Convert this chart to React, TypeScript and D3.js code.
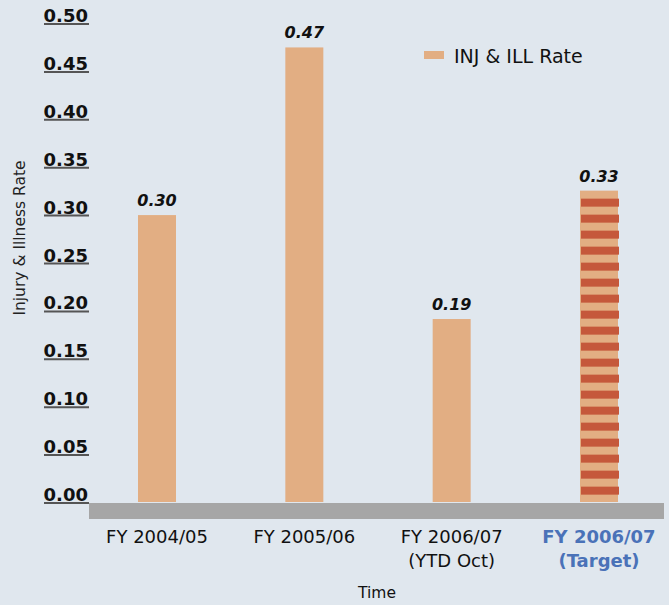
import React from 'react'
import * as d3 from 'd3'

// periods on the x axis, two lines each
const periods = ['FY 2004/05', 'FY 2005/06', 'FY 2006/07 (YTD Oct)', 'FY 2006/07 (Target)']
const periodLines = [['FY 2004/05'], ['FY 2005/06'], ['FY 2006/07', '(YTD Oct)'], ['FY 2006/07', '(Target)']]
const rates = [0.2995, 0.4745, 0.191, 0.325]
const isTarget = [false, false, false, true]
const yTicks = [0, 0.05, 0.1, 0.15, 0.2, 0.25, 0.3, 0.35, 0.4, 0.45, 0.5]

const W = 669
const H = 605
const BG = '#e0e7ee'
const BAR = '#e2ae83'
const STRIPE = '#c5583b'
const BLUE = '#4a72b8'
const FONT = '"DejaVu Sans", sans-serif'

const App: React.FC = () => {
  const y = d3.scaleLinear().domain([0, 0.5]).range([502, 23])
  const x = d3.scalePoint<string>().domain(periods).range([157, 599])
  const barW = 38
  const fmt = d3.format('.2f')

  return (
    <svg
      width={W}
      height={H}
      style={{ position: 'absolute', left: 0, top: 0, display: 'block' }}
      fontFamily={FONT}
    >
      <rect width={W} height={H} fill={BG} />

      {/* y axis ticks, underlined labels */}
      {yTicks.map(t => (
        <g key={t} transform={`translate(0,${y(t)})`}>
          <line x1={44} x2={89} y1={1} y2={1} stroke="#555" strokeWidth={2} />
          <text x={88} y={-1} textAnchor="end" fontSize={18} fontWeight="bold" fill="#111">
            {fmt(t)}
          </text>
        </g>
      ))}

      <text
        transform={`translate(25,${238}) rotate(-90)`}
        textAnchor="middle"
        fontSize={15.5}
        fill="#222"
      >
        Injury &amp; Illness Rate
      </text>

      {/* bars */}
      {periods.map((p, i) => {
        const cx = x(p)!
        const top = y(rates[i])
        const bottom = y(0)
        const x0 = cx - barW / 2
        return (
          <g key={p}>
            <rect x={x0} y={top} width={barW} height={bottom - top} fill={BAR} />
            {isTarget[i] &&
              d3.range(top + 8, bottom - 8, 16).map(s => (
                <rect key={s} x={x0 + 1} y={s} width={barW} height={8} fill={STRIPE} />
              ))}
            <text
              x={cx}
              y={top - 9}
              textAnchor="middle"
              fontSize={16}
              fontWeight="bold"
              fontStyle="italic"
              fill="#111"
            >
              {fmt(rates[i])}
            </text>
          </g>
        )
      })}

      {/* base band */}
      <rect x={89} y={y(0) + 1} width={575} height={16} fill="#a6a6a6" />

      {/* x labels */}
      {periods.map((p, i) => (
        <text
          key={p}
          x={x(p)}
          y={543}
          textAnchor="middle"
          fontSize={18}
          fontWeight={isTarget[i] ? 'bold' : 'normal'}
          fill={isTarget[i] ? BLUE : '#111'}
        >
          {periodLines[i].map((l, j) => (
            <tspan key={j} x={x(p)} dy={j === 0 ? 0 : 24}>
              {l}
            </tspan>
          ))}
        </text>
      ))}

      <text x={377} y={598} textAnchor="middle" fontSize={15.5} fill="#111">
        Time
      </text>

      {/* legend */}
      <rect x={424} y={51} width={20} height={8} fill={BAR} />
      <text x={454} y={63} fontSize={19} fill="#111">
        INJ &amp; ILL Rate
      </text>
    </svg>
  )
}

export default App
